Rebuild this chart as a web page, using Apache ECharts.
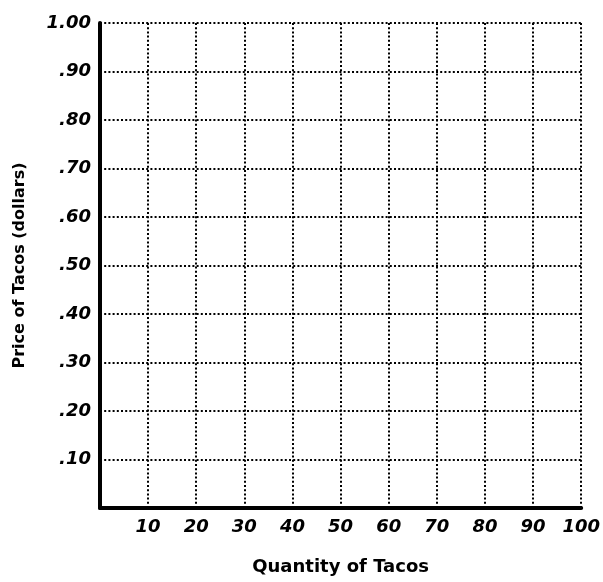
<!DOCTYPE html>
<html>
<head>
<meta charset="utf-8">
<script src="https://cdn.jsdelivr.net/npm/echarts@6/dist/echarts.min.js"></script>
<style>
  html, body { margin: 0; padding: 0; background: #fff; }
  #chart { width: 603px; height: 582px; }
</style>
</head>
<body>
<div id="chart"></div>
<script>
const xRange = [0, 100];
const xStep = 10;
const yRange = [0, 1];
const yStep = 0.1;
const yTickLabels = ['', '.10', '.20', '.30', '.40', '.50', '.60', '.70', '.80', '.90', '1.00'];
const xTitle = 'Quantity of Tacos';
const yTitle = 'Price of Tacos (dollars)';

const chart = echarts.init(document.getElementById('chart'));

const labelFont = {
  fontFamily: 'DejaVu Sans',
  fontWeight: 'bold',
  fontStyle: 'italic',
  fontSize: 18,
  color: '#000'
};
const gridDots = {
  show: true,
  lineStyle: { color: '#000', width: 2, type: [2, 2.2] }
};

chart.setOption({
  animation: false,
  grid: { left: 100, top: 23, width: 482, height: 485 },
  xAxis: {
    type: 'value',
    min: xRange[0],
    max: xRange[1],
    interval: xStep,
    name: xTitle,
    nameLocation: 'middle',
    nameGap: 50,
    nameTextStyle: { fontFamily: 'DejaVu Sans', fontWeight: 'bold', fontSize: 18, color: '#000' },
    axisLine: { show: true, lineStyle: { color: '#000', width: 4 } },
    axisTick: { show: false },
    axisLabel: Object.assign({
      margin: 10,
      showMinLabel: false,
      formatter: v => (v === 0 ? '' : String(v))
    }, labelFont),
    splitLine: gridDots
  },
  yAxis: {
    type: 'value',
    min: yRange[0],
    max: yRange[1],
    interval: yStep,
    name: yTitle,
    nameLocation: 'middle',
    nameGap: 72,
    nameTextStyle: { fontFamily: 'DejaVu Sans', fontWeight: 'bold', fontSize: 16, color: '#000' },
    axisLine: { show: true, lineStyle: { color: '#000', width: 4 } },
    axisTick: { show: false },
    axisLabel: Object.assign({
      margin: 9,
      formatter: v => yTickLabels[Math.round(v / yStep)]
    }, labelFont),
    splitLine: gridDots
  },
  series: [
    { type: 'line', data: [], showSymbol: false }
  ]
});
</script>
</body>
</html>
